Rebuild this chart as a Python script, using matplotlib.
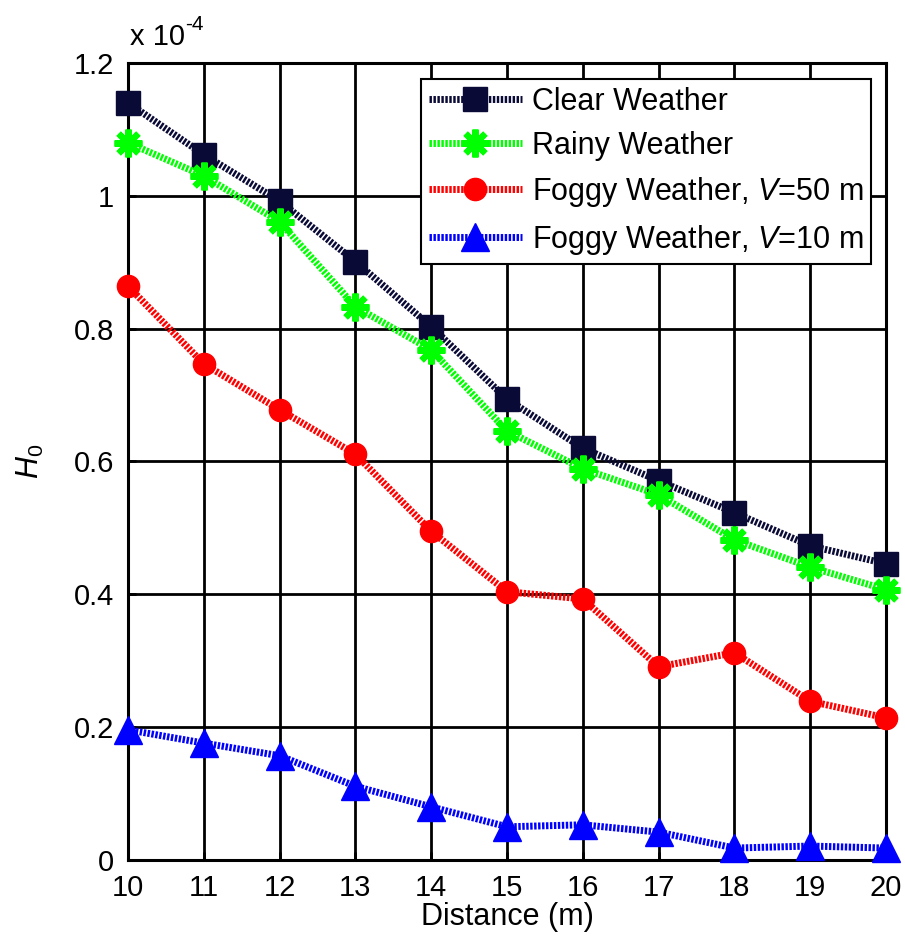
import matplotlib
matplotlib.use("Agg")
import matplotlib.pyplot as plt

plt.rcParams['font.family'] = ['Liberation Sans', 'DejaVu Sans']
plt.rcParams['mathtext.fontset'] = 'custom'
plt.rcParams['mathtext.it'] = 'Liberation Sans:italic'
plt.rcParams['mathtext.rm'] = 'Liberation Sans'

# distance (m) and channel gain H0 (x 1e-4)
distance = [10, 11, 12, 13, 14, 15, 16, 17, 18, 19, 20]
clear = [1.140, 1.062, 0.992, 0.901, 0.803, 0.694, 0.620, 0.571, 0.523, 0.473, 0.446]
rainy = [1.080, 1.030, 0.961, 0.833, 0.768, 0.646, 0.589, 0.550, 0.482, 0.441, 0.407]
foggy50 = [0.864, 0.747, 0.678, 0.611, 0.495, 0.404, 0.393, 0.291, 0.312, 0.239, 0.214]
foggy10 = [0.196, 0.176, 0.157, 0.111, 0.080, 0.050, 0.053, 0.042, 0.018, 0.021, 0.018]

labels = ['Clear Weather', 'Rainy Weather',
          'Foggy Weather, $V$=50 m', 'Foggy Weather, $V$=10 m']

fig = plt.figure(figsize=(9.05, 9.42), dpi=100)
ax = fig.add_axes([128 / 905, 82 / 942, 758 / 905, 797 / 942])

dash = (0.35, 0.22)
lw = 5
ax.plot(distance, clear, color='#0a0a36', lw=lw, dashes=dash, marker='s',
        ms=17, mfc='#0a0a36', mec='#0a0a36', label=labels[0], zorder=5, clip_on=False)
ax.plot(distance, rainy, color='#00ff00', lw=lw, dashes=dash, marker=(8, 2, 0),
        ms=20, mew=4.5, mec='#00ff00', label=labels[1], zorder=5, clip_on=False)
ax.plot(distance, foggy50, color='#ff0000', lw=lw, dashes=dash, marker='o',
        ms=16, mfc='#ff0000', mec='#ff0000', label=labels[2], zorder=5, clip_on=False)
ax.plot(distance, foggy10, color='#0000ff', lw=lw, dashes=dash, marker='^',
        ms=20, mfc='#0000ff', mec='#0000ff', label=labels[3], zorder=5, clip_on=False)

ax.set_xlim(10, 20)
ax.set_ylim(0, 1.2)
ax.set_xticks(distance)
ax.set_yticks([0, 0.2, 0.4, 0.6, 0.8, 1.0, 1.2])
ax.set_yticklabels(['0', '0.2', '0.4', '0.6', '0.8', '1', '1.2'])
ax.grid(True, color='black', lw=2, ls='-')
ax.set_axisbelow(True)
for s in ax.spines.values():
    s.set_linewidth(2.2)
ax.tick_params(direction='in', length=6, width=2, labelsize=21, pad=10)

ax.set_xlabel('Distance (m)', fontsize=22, labelpad=0)
ax.set_ylabel('$H_0$', fontsize=22, labelpad=20)
# axis multiplier, MATLAB style
ax.text(0.002, 1.015, 'x 10', transform=ax.transAxes,
        fontsize=21, ha='left', va='bottom')
ax.text(0.076, 1.036, '-4', transform=ax.transAxes,
        fontsize=15, ha='left', va='bottom')

leg = ax.legend(loc='upper right', bbox_to_anchor=(0.980, 0.980), fontsize=22,
                frameon=True, fancybox=False, framealpha=1, edgecolor='black',
                handlelength=3.05, borderpad=0.25, labelspacing=0.46,
                handletextpad=0.33, borderaxespad=0)
leg.get_frame().set_linewidth(1.5)
leg.set_zorder(10)

fig.savefig('out.png', dpi=100)
